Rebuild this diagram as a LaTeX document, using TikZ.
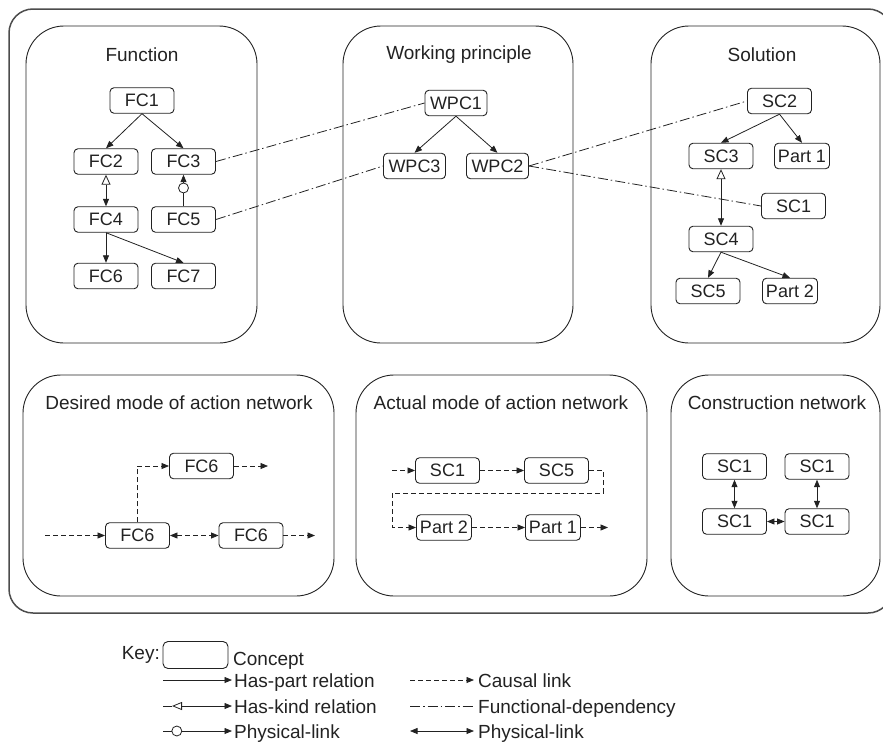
\documentclass[tikz,border=0pt]{standalone}
\usepackage{fontspec}
\setmainfont{Liberation Sans}
\usetikzlibrary{arrows.meta,calc}
\definecolor{ink}{HTML}{222222}
\tikzset{
  concept/.style={draw=ink, line width=0.9pt, rounded corners=4pt, minimum height=25.5pt,
    minimum width=64pt, inner xsep=3pt, inner ysep=2pt, font=\fontsize{18}{21}\selectfont, text=ink},
  partbox/.style={concept, minimum width=55pt, inner xsep=2pt},
  wpcbox/.style={concept, minimum width=62pt, inner xsep=1.5pt},
  panel/.style={draw=ink, line width=0.9pt, rounded corners=38pt},
  ptitle/.style={font=\fontsize{19}{22}\selectfont, text=ink},
  legtext/.style={font=\fontsize{19}{22}\selectfont, text=ink, inner sep=0pt},
  tip/.tip={Triangle[length=7.5pt,width=6pt]},
  haspart/.style={-tip, line width=0.8pt, draw=ink},
  haskind/.style={{Triangle[open,length=10pt,width=9pt]}-tip, line width=0.8pt, draw=ink},
  causal/.style={-tip, dash pattern=on 5pt off 3pt, line width=0.8pt, draw=ink},
  causalboth/.style={tip-tip, dash pattern=on 5pt off 3pt, line width=0.8pt, draw=ink},
  funcdep/.style={dash pattern=on 10pt off 3pt on 1.5pt off 3pt, line width=0.8pt, draw=ink},
  physlink/.style={tip-tip, line width=0.8pt, draw=ink},
  physcirc/.style={circle, draw=ink, fill=white, inner sep=0pt, minimum size=10pt, line width=0.8pt},
}
\begin{document}
\begin{tikzpicture}[x=1pt,y=-1pt]
\useasboundingbox (0,0) rectangle (883,747);
\begin{scope}
\clip (0,0) rectangle (883,747);
\draw[draw=black!70, line width=1.5pt, rounded corners=24pt] (9,9) rectangle (892,613);
\end{scope}

% panels
\draw[panel] (26,26) rectangle (257,343);
\draw[panel] (343,26) rectangle (573,343);
\draw[panel] (651,26) rectangle (880,343);
\draw[panel] (23,375) rectangle (334,596);
\draw[panel] (356,375) rectangle (647,596);
\draw[panel] (671,375) rectangle (880,596);

% titles
\node[ptitle] (tf) at (142,55) {Function};
\node[ptitle] (tw) at (459,55) {Working principle};
\node[ptitle] (ts) at (762,55) {Solution};
\node[ptitle] (td) at (179,403) {Desired mode of action network};
\node[ptitle] (ta) at (501,403) {Actual mode of action network};
\node[ptitle] (tc) at (777,403) {Construction network};

% Function
\node[concept] (FC1) at (142,100.5) {FC1};
\node[concept] (FC2) at (106,161.5) {FC2};
\node[concept] (FC3) at (183.5,161.5) {FC3};
\node[concept] (FC4) at (106,219.5) {FC4};
\node[concept] (FC5) at (183.5,219.5) {FC5};
\node[concept] (FC6) at (106,276) {FC6};
\node[concept] (FC7) at (183.5,276) {FC7};
\draw[haspart] (FC1.south) -- (FC2.north);
\draw[haspart] (FC1.south) -- (FC3.north);
\draw[haskind] (FC2.south) -- (FC4.north);
\draw[haspart] (FC5.north) -- (FC3.south) node[pos=0.58, physcirc] (fcc) {};
\draw[haspart] (FC4.south) -- (FC6.north);
\draw[haspart] (FC4.south) -- (FC7.north);

% Working principle
\node[wpcbox] (WPC1) at (456,103) {WPC1};
\node[wpcbox] (WPC3) at (414.5,166) {WPC3};
\node[wpcbox] (WPC2) at (497.5,166) {WPC2};
\draw[haspart] (WPC1.south) -- (WPC3.north);
\draw[haspart] (WPC1.south) -- (WPC2.north);

% Solution
\node[concept] (SC2) at (779.5,101) {SC2};
\node[concept] (SC3) at (721,156) {SC3};
\node[partbox] (P1) at (802,156) {Part 1};
\node[concept] (SC1) at (793.5,206) {SC1};
\node[concept] (SC4) at (721,239) {SC4};
\node[concept] (SC5) at (708,291) {SC5};
\node[partbox] (P2) at (790,291) {Part 2};
\draw[haspart] (SC2.south) -- (SC3.north);
\draw[haspart] (SC2.south) -- (P1.north);
\draw[haskind] (SC3.south) -- (SC4.north);
\draw[haspart] (SC4.south) -- (SC5.north);
\draw[haspart] (SC4.south) -- (P2.north);

% functional dependencies
\draw[funcdep] (FC3.east) -- (WPC1.west);
\draw[funcdep] (FC5.east) -- (WPC3.west);
\draw[funcdep] (WPC2.east) -- (SC2.west);
\draw[funcdep] (WPC2.east) -- (SC1.west);

% Desired mode of action network
\node[concept] (d2) at (201.5,466) {FC6};
\node[concept] (d1) at (137.5,535.5) {FC6};
\node[concept] (d3) at (251,535.5) {FC6};
\coordinate (din) at (45,535.5);
\coordinate (dout1) at (315,535.5);
\coordinate (dout2) at (268,466);
\draw[causal] (din) -- (d1.west);
\draw[causalboth] (d1.east) -- (d3.west);
\draw[causal] (d3.east) -- (dout1);
\draw[causal] (d1.north) |- (d2.west);
\draw[causal] (d2.east) -- (dout2);

% Actual mode of action network
\node[concept] (a1) at (447.5,470.5) {SC1};
\node[concept] (a2) at (556.5,470.5) {SC5};
\node[partbox] (a3) at (444,527.5) {Part 2};
\node[partbox] (a4) at (553,527.5) {Part 1};
\coordinate (ain) at (392,470.5);
\coordinate (ak1) at (603,493);
\coordinate (ak2) at (392,493);
\coordinate (aout) at (608,527.5);
\draw[causal] (ain) -- (a1.west);
\draw[causal] (a1.east) -- (a2.west);
\draw[causal] (a2.east) -| (ak1) -- (ak2) |- (a3.west);
\draw[causal] (a3.east) -- (a4.west);
\draw[causal] (a4.east) -- (aout);

% Construction network
\node[concept] (c1) at (734.5,466.5) {SC1};
\node[concept] (c2) at (817,466.5) {SC1};
\node[concept] (c3) at (734.5,521.5) {SC1};
\node[concept] (c4) at (817,521.5) {SC1};
\draw[physlink] (c1.south) -- (c3.north);
\draw[physlink] (c2.south) -- (c4.north);
\draw[physlink] (c3.east) -- (c4.west);

% Key
\node[draw=ink, line width=0.9pt, rounded corners=5pt, minimum width=65pt, minimum height=27pt, inner sep=0pt] (keybox) at (195.5,655) {};
\node[legtext, anchor=base east] (keylbl) at (160,659) {Key:};
\node[legtext, anchor=base west] (keycon) at (233,665) {Concept};

\coordinate (l1a) at (163,680); \coordinate (l1b) at (232,680);
\draw[haspart] (l1a) -- (l1b);
\node[legtext, anchor=base west] (t1) at (234,687) {Has-part relation};

\coordinate (l2a) at (163,706); \coordinate (l2m) at (172,706); \coordinate (l2b) at (232,706);
\draw[line width=0.8pt, draw=ink] (l2a) -- (l2m);
\draw[line width=0.8pt, draw=ink, {Triangle[open,length=10pt,width=8pt]}-tip] (l2m) -- (l2b);
\node[legtext, anchor=base west] (t2) at (234,713) {Has-kind relation};

\coordinate (l3a) at (163,731); \coordinate (l3b) at (232,731);
\draw[haspart] (l3a) -- (l3b) node[pos=0.2, physcirc] (lc) {};
\node[legtext, anchor=base west] (t3) at (234,738) {Physical-link};

\coordinate (r1a) at (410,680); \coordinate (r1b) at (474,680);
\draw[causal] (r1a) -- (r1b);
\node[legtext, anchor=base west] (t4) at (478,687) {Causal link};

\coordinate (r2a) at (410,706); \coordinate (r2b) at (474,706);
\draw[funcdep] (r2a) -- (r2b);
\node[legtext, anchor=base west] (t5) at (478,713) {Functional-dependency};

\coordinate (r3a) at (410,731); \coordinate (r3b) at (474,731);
\draw[physlink] (r3a) -- (r3b);
\node[legtext, anchor=base west] (t6) at (478,738) {Physical-link};
\end{tikzpicture}
\end{document}
